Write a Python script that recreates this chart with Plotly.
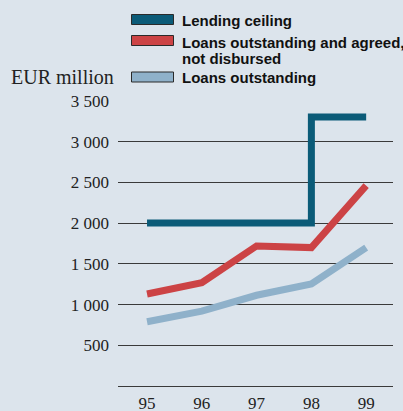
import plotly.graph_objects as go

# ---- data ----
years = [95, 96, 97, 98, 99]
year_labels = ["95", "96", "97", "98", "99"]
ceiling_x = [95, 98, 98, 99]
ceiling_y = [2000, 2000, 3300, 3300]
agreed = [1130, 1270, 1720, 1700, 2460]
outstanding = [790, 920, 1115, 1255, 1700]
y_ticks = [0, 500, 1000, 1500, 2000, 2500, 3000, 3500]
y_tick_labels = ["", "500", "1 000", "1 500", "2 000", "2 500", "3 000", "3 500"]
series_names = ["Lending ceiling", "Loans outstanding and agreed,", "not disbursed", "Loans outstanding"]

# ---- style ----
W, H = 403, 411
L, R, T, B = 118, 10, 100, 24
BG = "#dce4ec"
C_TEAL = "#0b5b78"
C_RED = "#cc4345"
C_BLUE = "#8fb1ca"
PW = W - L - R
PH = H - T - B

def px_x(x):
    return (x - L) / PW

def px_y(y):
    return (H - B - y) / PH

fig = go.Figure()
fig.add_trace(go.Scatter(x=ceiling_x, y=ceiling_y, mode="lines",
                         line=dict(color=C_TEAL, width=7), showlegend=False))
fig.add_trace(go.Scatter(x=years, y=agreed, mode="lines",
                         line=dict(color=C_RED, width=7), showlegend=False))
fig.add_trace(go.Scatter(x=years, y=outstanding, mode="lines",
                         line=dict(color=C_BLUE, width=7), showlegend=False))

# legend swatches
swatches = [(14.5, 24.5, C_TEAL), (35.5, 45.5, C_RED), (72, 82, C_BLUE)]
for y0, y1, c in swatches:
    fig.add_shape(type="rect", xref="paper", yref="paper",
                  x0=px_x(131.5), x1=px_x(173.5), y0=px_y(y1), y1=px_y(y0),
                  fillcolor=c, line=dict(color="#2a2a2a", width=1))

legend_text_y = [20, 42, 58, 78]
for txt, yy in zip(series_names, legend_text_y):
    fig.add_annotation(text=txt, xref="paper", yref="paper",
                       x=px_x(180), y=px_y(yy), xanchor="left", yanchor="middle",
                       showarrow=False,
                       font=dict(family="Liberation Sans", size=15, color="#111111", weight="bold"))

fig.add_annotation(text="EUR million", xref="paper", yref="paper",
                   x=px_x(9), y=px_y(77), xanchor="left", yanchor="middle",
                   showarrow=False,
                   font=dict(family="Liberation Serif", size=20, color="#222222"))

fig.update_layout(
    width=W, height=H,
    margin=dict(l=L, r=R, t=T, b=B, pad=0, autoexpand=False),
    paper_bgcolor=BG, plot_bgcolor=BG,
    showlegend=False,
    xaxis=dict(range=[94.47, 99.49], tickvals=years, ticktext=year_labels,
               showgrid=False, zeroline=False, showline=False, ticks="",
               ticklabelstandoff=4, automargin=False,
               tickfont=dict(family="Liberation Serif", size=17, color="#222222")),
    yaxis=dict(range=[-10, 3510], tickvals=y_ticks, ticktext=y_tick_labels,
               showgrid=True, gridcolor="#3a3a3a", gridwidth=1.3,
               zeroline=True, zerolinecolor="#3a3a3a", zerolinewidth=1.3,
               showline=False, ticks="", ticklabelstandoff=8, automargin=False,
               tickfont=dict(family="Liberation Serif", size=17, color="#222222")),
)

fig.write_html(
    "out.html",
    config={"displayModeBar": False},
    post_script="document.body.style.margin='0';document.body.style.padding='0';"
                "document.body.style.overflow='hidden';document.body.style.background='" + BG + "';",
)
